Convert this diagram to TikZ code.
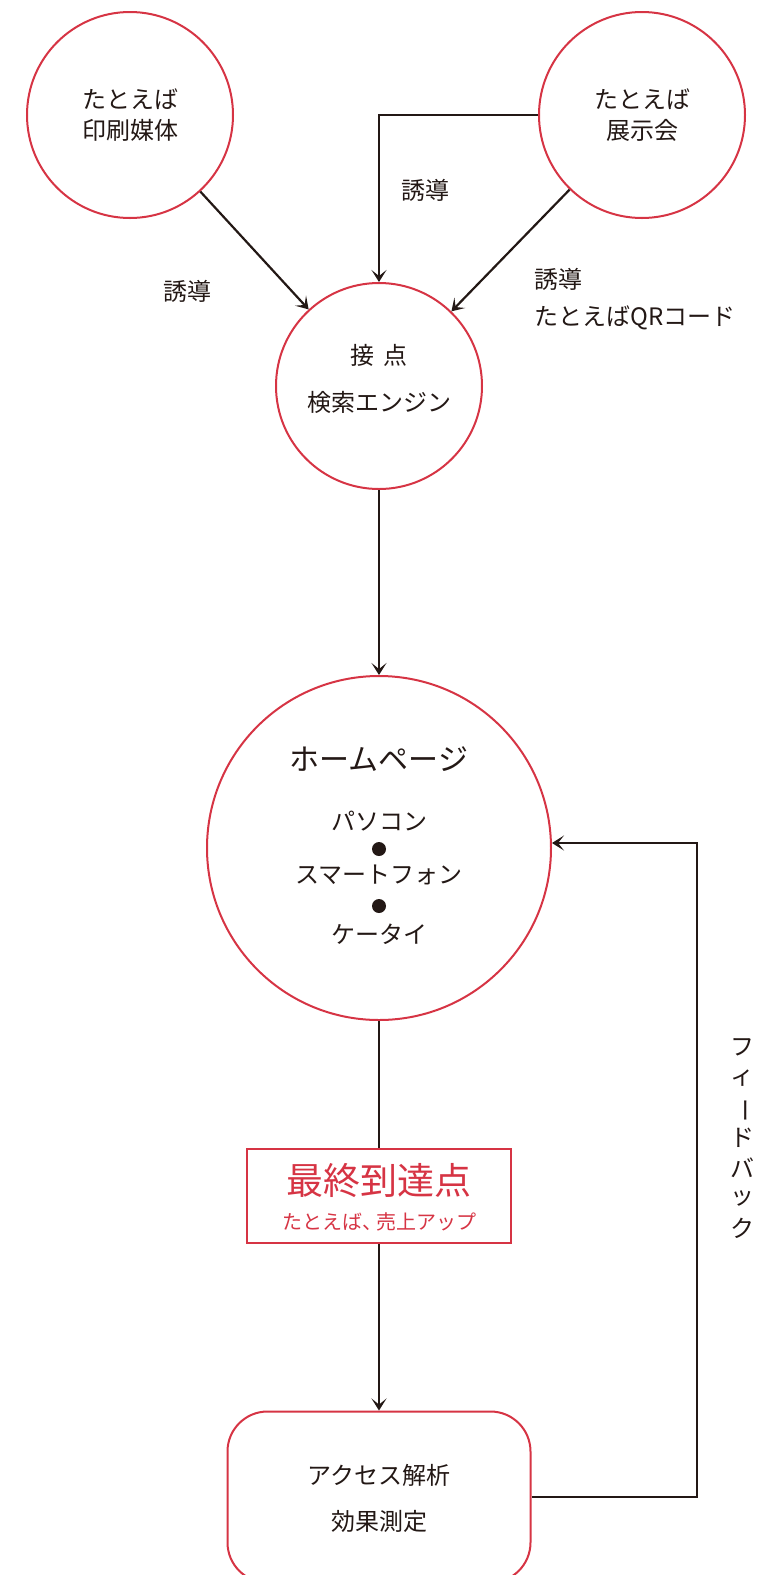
\documentclass[tikz,border=0pt]{standalone}
\usepackage{fontspec}
\setmainfont{Noto Sans CJK JP}
\usetikzlibrary{arrows.meta}
\definecolor{ared}{RGB}{214,52,68}
\definecolor{ink}{RGB}{35,24,21}
\tikzset{
  bub/.style={circle, draw=ared, line width=2pt, inner sep=0pt},
  redbox/.style={draw=ared, line width=2pt, inner sep=0pt},
  wire/.style={draw=ink, line width=2.2pt},
  conn/.style={wire, -{Stealth[length=12pt,width=15pt,inset=6pt]}},
  txt/.style={text=ink, inner sep=0pt, font=\fontsize{24}{28}\selectfont},
  dot/.style={circle, fill=ink, minimum size=14pt, inner sep=0pt},
}
\begin{document}
\begin{tikzpicture}[x=1pt,y=-1pt]
\useasboundingbox (0,0) rectangle (769,1575);
% shapes
\node[bub, minimum size=206pt] (c1) at (130,115) {};
\node[bub, minimum size=206pt] (c2) at (642,115) {};
\node[bub, minimum size=206pt] (c3) at (379,386) {};
\node[bub, minimum size=344pt] (c4) at (379,848) {};
\node[redbox, minimum width=264pt, minimum height=94pt] (goal) at (379,1196) {};
\node[redbox, rounded corners=40pt, minimum width=303pt, minimum height=171pt] (ab) at (379,1497) {};
% texts
\node[txt] (t1a) at (130,99) {たとえば};
\node[txt] (t1b) at (130,130) {印刷媒体};
\node[txt] (t2a) at (642,99) {たとえば};
\node[txt] (t2b) at (642,130) {展示会};
\node[txt] (t3a) at (379,355) {接\hspace{0.4em}点};
\node[txt] (t3b) at (379,402) {検索エンジン};
\node[txt, font=\fontsize{30}{34}\selectfont] (t4a) at (379,759) {ホームページ};
\node[txt] (t4b) at (379,821) {パソコン};
\node[dot] (d1) at (379,849) {};
\node[txt] (t4c) at (379,875) {スマートフォン};
\node[dot] (d2) at (379,906) {};
\node[txt] (t4d) at (379,934) {ケータイ};
\node[txt, text=ared, font=\fontsize{37}{40}\selectfont] (g1) at (379,1181) {最終到達点};
\node[txt, text=ared, font=\fontsize{20}{24}\selectfont] (g2) at (379,1222) {たとえば、\kern-0.3em売上アップ};
\node[txt] (a1) at (379,1475) {アクセス解析};
\node[txt] (a2) at (379,1521) {効果測定};
\node[txt] (l1) at (187,291) {誘導};
\node[txt] (l2) at (425,190) {誘導};
\node[txt, anchor=west] (l3) at (534,279) {誘導};
\node[txt, anchor=west] (l4) at (534,318) {たとえばQRコード};
% vertical feedback label
\node[txt] (v1) at (742,1047) {フ};
\node[txt] (v2) at (742,1078) {ィ};
\node[txt, rotate=-90] (v3) at (742,1110) {ー};
\node[txt] (v4) at (742,1138) {ド};
\node[txt] (v5) at (742,1168) {バ};
\node[txt] (v6) at (742,1198) {ッ};
\node[txt] (v7) at (742,1228) {ク};
% connectors
\draw[conn] (c1) -- (c3);
\draw[conn] (c2) -- (c3);
\draw[conn] (c2.west) -| (c3.north);
\draw[conn] (c3) -- (c4);
\draw[wire] (c4) -- (goal);
\draw[conn] (goal) -- (ab);
\coordinate (fb) at (697,843);
\draw[conn] (ab.east) -| (fb) -- (c4.east |- fb);
\end{tikzpicture}
\end{document}
